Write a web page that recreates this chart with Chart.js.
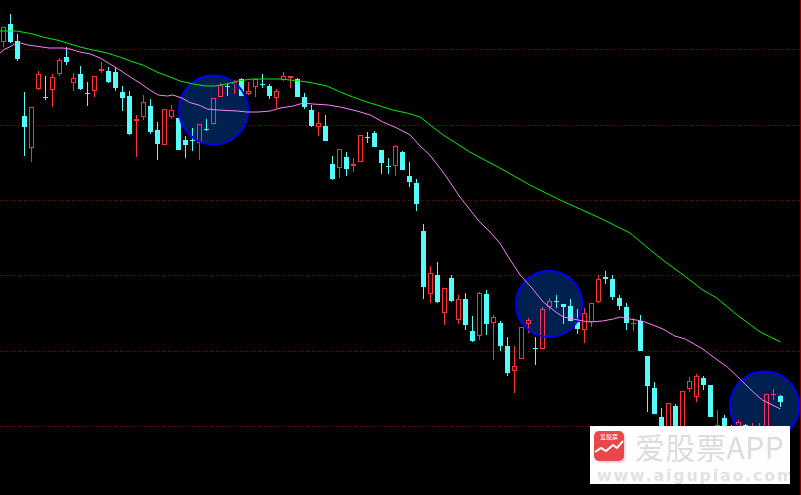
<!DOCTYPE html>
<html>
<head>
<meta charset="utf-8">
<script src="https://cdn.jsdelivr.net/npm/chart.js@4"></script>
<style>
    html, body { margin: 0; padding: 0; background: #000; }
    #wrap { position: relative; width: 801px; height: 495px; overflow: hidden; }
    #edge { position: absolute; left: 800px; top: 0; width: 1px; height: 495px; background: #800000; }
    #badge { position: absolute; left: 590px; top: 426px; width: 200px; height: 58px; background: #fefefe; overflow: hidden; }
    #badge svg { position: absolute; left: 2px; top: 3px; }
    #name { position: absolute; left: 45px; top: 2px; font: 30px "Noto Sans CJK SC", sans-serif; color: #dcdcdc; line-height: 36px; white-space: nowrap; letter-spacing: 0.5px; filter: blur(0.3px); }
    #site { position: absolute; left: 7px; top: 41px; font: bold 16px "DejaVu Sans", sans-serif; color: #e2e2e2; line-height: 18px; white-space: nowrap; letter-spacing: 1.75px; filter: blur(0.4px); }
</style>
</head>
<body>
<div id="wrap">
    <canvas id="klineChart" width="801" height="495"></canvas>
    <div id="edge"></div>
    <div id="badge">
        <svg width="40" height="36" viewBox="0 0 40 36">
            <rect x="4" y="4" width="30" height="30" rx="5" fill="#e0e0e0"/>
            <rect x="2" y="2" width="30" height="30" rx="5" fill="#e8474c"/>
            <polyline points="3,23 9,19 14,22 21,16 25,19 31,12" fill="none" stroke="#fff" stroke-width="2"/>
            <text x="17" y="10" font-size="6" fill="#fff" text-anchor="middle" font-family="Noto Sans CJK SC">爱股票</text>
        </svg>
        <div id="name">爱股票APP</div>
        <div id="site">www.aigupiao.com</div>
    </div>
</div>
<script>
// price levels, one entry per session
const opens = [453,471,454,379,347,406,398,405,421,438,412,421,402,404,424,424,423,403,399,374,378,389,365,350,378,377,355,355,352,366,371,398,409,411,416,401,408,411,409,397,415,417,416,398,385,368,369,331,327,338,329,333,358,362,345,329,329,343,319,312,264,201,220,182,217,175,196,164,159,201,172,172,149,124,136,171,147,146,188,194,191,189,173,165,173,193,218,216,197,188,171,174,139,107,78,50,89,55,106,98,117,110,50,77,65,55,70,55,55,55,100,99];
const highs = [468,481,461,403,388,424,419,421,437,448,422,429,413,419,433,428,428,409,404,380,400,396,373,386,390,377,359,367,371,376,397,412,412,415,417,413,416,421,411,406,423,419,417,402,390,383,380,339,346,343,337,360,363,364,345,337,350,344,333,316,271,229,233,207,220,200,202,179,203,205,180,174,158,149,168,177,158,188,197,200,191,196,186,187,192,220,224,220,200,192,177,180,139,113,87,92,91,104,118,121,119,110,85,80,70,75,71,72,72,101,106,100];
const lows = [448,452,434,339,333,405,395,388,419,430,404,405,389,398,422,412,404,384,360,338,375,361,335,350,376,345,337,344,335,364,370,398,399,401,399,400,398,407,396,387,414,407,398,386,368,359,354,315,317,319,323,333,352,348,321,321,319,325,308,284,196,192,192,170,193,171,165,153,155,160,135,144,119,102,136,162,130,146,185,187,171,174,161,152,168,192,211,195,185,165,164,144,83,81,53,50,53,55,103,93,105,78,45,50,45,50,50,50,50,55,95,88];
const closes = [468,453,436,368,388,421,397,418,435,433,417,406,401,419,426,413,407,397,361,376,393,363,351,386,385,345,350,354,371,365,397,410,408,413,399,404,416,410,399,404,419,419,398,388,369,372,354,316,346,326,331,360,357,348,332,328,349,325,313,291,208,222,193,207,194,196,170,154,202,171,178,149,122,129,168,175,146,186,194,193,188,174,166,182,192,216,216,198,189,172,172,144,109,81,55,92,55,104,114,119,110,78,70,55,50,73,55,69,69,101,101,93];

// moving averages: position in sessions, price level
const greenPos = [-0.5,1.9,4.2,5.6,7.6,9.1,10.9,12.8,14.8,16.6,18.5,19.9,21.9,23.8,25.2,27.1,28.8,30.2,31.9,33.5,35.5,39.5,42.4,44.2,46.2,48.1,49.9,51.9,53.8,55.6,57.6,59.5,62.4,66.6,70.9,75.2,79.5,85.2,89.5,92.4,94.2,97.1,99.9,101.9,104.8,108.1,111];
const greenLevel = [464,464,461,458,455,452,448,445,442,438,433,430,423,418,414,411,409,409,411,414,416,416,414,412,409,403,398,393,389,385,382,378,362,343,327,310,295,277,262,245,235,220,205,197,180,163,153];
const pinkPos = [-0.5,0.2,0.9,1.6,2.4,3.5,4.5,5.5,6.5,8.5,9.5,10.9,12.4,13.8,15.2,16.6,18.1,19.5,20.9,22.1,23.4,24.2,25.5,26.6,28.1,29.1,30.6,33.4,34.8,36.4,38.1,39.5,41.4,42.8,44.2,46.4,48.1,50.5,52.4,54.2,56.2,58.1,59.5,60.9,63.1,65.2,67.8,69.5,70.9,72.4,73.8,75.5,77.1,79.1,80,81.4,82.8,83.8,85.6,87.1,88.1,89.5,91.2,92.8,94.2,95.9,97.4,99.9,101.4,103.4,105.2,107.1,108.4,111];
const pinkLevel = [442,446,448,451,452,450,449,448,447,447,446,443,441,437,431,425,418,412,405,400,399,400,397,392.5,389.5,386,385,384,383,383,384,387,389,392,391,390,388,384,380,373,367,360,349,340,320,298,275,263,252,235,220,207,193,182,178,176,174,173,174,176,178,176,174,170,166,159,156,146,138,128,116,103,95,86];

// the three highlight circles
const circlePos = [30.0, 77.93, 108.71];
const circleLevel = [385, 191, 89];
const circleRadius = [34.5, 33, 34.5];

const gridLevels = [445.5, 369.5, 294.5, 219.5, 143.5, 68.5];

const UP_COLOR = '#ff3232';
const DOWN_COLOR = '#54fcfc';

const isUp = i => closes[i] >= opens[i];
const candleColors = opens.map((o, i) => (isUp(i) ? UP_COLOR : DOWN_COLOR));
const bodyFills = opens.map((o, i) => (isUp(i) ? '#000000' : DOWN_COLOR));
const circles = circlePos.map((x, i) => ({ x: x, y: circleLevel[i], r: circleRadius[i] }));

// lets the navy wash sit over the candles without hiding them
const lightenPlugin = {
    id: 'lightenFill',
    beforeDatasetDraw(chart, args) {
        if (chart.data.datasets[args.index].lighten) {
            chart.ctx.save();
            chart.ctx.globalCompositeOperation = 'lighten';
        }
    },
    afterDatasetDraw(chart, args) {
        if (chart.data.datasets[args.index].lighten) {
            chart.ctx.restore();
        }
    },
};

const ctx = document.getElementById('klineChart').getContext('2d');
new Chart(ctx, {
    type: 'bar',
    plugins: [lightenPlugin],
    data: {
        datasets: [
            { type: 'bubble', order: 6, data: circles, backgroundColor: '#002050', borderWidth: 0 },
            {
                order: 5,
                data: opens.map((o, i) => ({ x: i, y: [lows[i], highs[i]] })),
                backgroundColor: candleColors,
                barThickness: 1,
                grouped: false,
                inflateAmount: 0,
            },
            {
                order: 4,
                data: opens.map((o, i) => ({ x: i, y: [o, closes[i]] })),
                backgroundColor: bodyFills,
                borderColor: candleColors,
                borderWidth: 1,
                borderSkipped: false,
                barThickness: 5,
                grouped: false,
                inflateAmount: 0,
            },
            { type: 'bubble', order: 3, lighten: true, data: circles, backgroundColor: '#002050', borderWidth: 0 },
            { type: 'bubble', order: 2, data: circles, backgroundColor: 'rgba(0,0,0,0)', borderColor: '#0000ff', borderWidth: 2 },
            {
                type: 'line',
                order: 1,
                data: pinkPos.map((x, i) => ({ x: x, y: pinkLevel[i] })),
                borderColor: '#ff80ff',
                borderWidth: 1,
                pointRadius: 0,
                tension: 0,
            },
            {
                type: 'line',
                order: 0,
                data: greenPos.map((x, i) => ({ x: x, y: greenLevel[i] })),
                borderColor: '#00f000',
                borderWidth: 1,
                pointRadius: 0,
                tension: 0,
            },
        ],
    },
    options: {
        responsive: false,
        animation: false,
        events: [],
        layout: { padding: 0, autoPadding: false },
        plugins: { legend: { display: false }, tooltip: { enabled: false }, title: { display: false } },
        scales: {
            x: { type: 'linear', display: false, min: -0.5, max: 801 / 7 - 0.5, offset: false },
            y: {
                type: 'linear',
                min: 0,
                max: 495,
                afterBuildTicks: scale => {
                    scale.ticks = gridLevels.map(v => ({ value: v }));
                },
                afterFit: scale => {
                    scale.width = 0;
                },
                ticks: { display: false },
                border: { display: false, dash: [1, 2] },
                grid: { color: '#8c0000', lineWidth: 1, drawTicks: false },
            },
        },
    },
});
</script>
</body>
</html>
